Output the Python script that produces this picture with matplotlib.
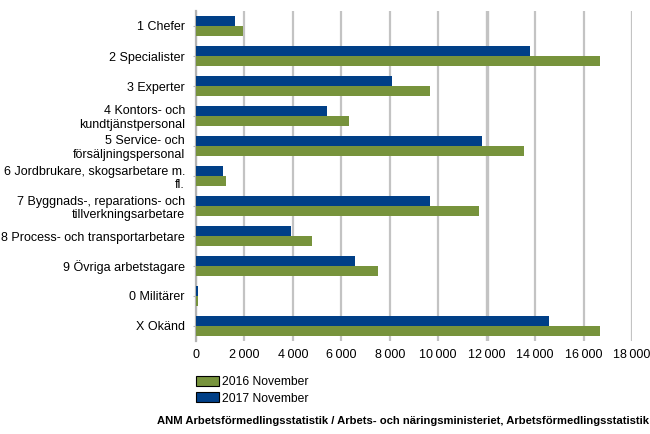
import numpy as np
import matplotlib.pyplot as plt
from matplotlib.patches import Patch

plt.rcParams['font.family'] = ['Liberation Sans', 'DejaVu Sans']

categories = ['1 Chefer', '2 Specialister', '3 Experter',
              '4 Kontors- och\nkundtjänstpersonal',
              '5 Service- och\nförsäljningspersonal',
              '6 Jordbrukare, skogsarbetare m.\nfl.',
              '7 Byggnads-, reparations- och\ntillverkningsarbetare',
              '8 Process- och transportarbetare',
              '9 Övriga arbetstagare', '0 Militärer', 'X Okänd']
nov_2016 = [1940, 16680, 9660, 6320, 13540, 1240, 11680, 4790, 7510, 80, 16680]
nov_2017 = [1610, 13790, 8090, 5410, 11810, 1115, 9660, 3920, 6560, 80, 14570]
xticks = list(range(0, 18001, 2000))
xticklabels = ['0', '2\u2009000', '4\u2009000', '6\u2009000', '8\u2009000', '10\u2009000',
               '12\u2009000', '14\u2009000', '16\u2009000', '18\u2009000']

green = '#77933c'
blue = '#003f87'

fig = plt.figure(figsize=(6.5, 4.34), dpi=100)
ax = fig.add_axes([196 / 650, 1 - 341 / 434, 436 / 650, 330 / 434])

y = np.arange(len(categories))
h = 0.31
ax.barh(y - h / 2 - 0.01, nov_2017, height=h, color=blue, zorder=3)
ax.barh(y + h / 2 + 0.01, nov_2016, height=h, color=green, zorder=3)

ax.set_ylim(len(categories) - 0.5, -0.5)
ax.set_xlim(0, 18000)
ax.set_yticks(y)
ax.set_yticklabels(categories, fontsize=9, linespacing=1.2)
ax.set_xticks(xticks)
ax.set_xticklabels(xticklabels, fontsize=9)
ax.tick_params(axis='y', length=2, color='#b3b3b3', pad=6)
ax.tick_params(axis='x', length=0, pad=6)

for t in xticks:
    lw = 2.4 if t == 12000 else 1.6
    ax.axvline(t, color='#c3c3c3', lw=lw, zorder=1)

for s in ['top', 'right', 'bottom']:
    ax.spines[s].set_visible(False)
ax.spines['left'].set_color('#b3b3b3')
ax.spines['left'].set_linewidth(1.6)

handles = [Patch(facecolor=green, edgecolor='black', linewidth=0.8, label='2016 November'),
           Patch(facecolor=blue, edgecolor='black', linewidth=0.8, label='2017 November')]
fig.legend(handles=handles, loc='upper left', bbox_to_anchor=(190 / 650, 1 - 370 / 434),
           frameon=False, fontsize=8.7, handlelength=1.9, handleheight=0.9,
           handletextpad=0.25, labelspacing=0.35, borderpad=0)

fig.text(649 / 650, 1 - 421 / 434,
         'ANM Arbetsförmedlingsstatistik / Arbets- och näringsministeriet, Arbetsförmedlingsstatistik',
         ha='right', va='center', fontsize=8.1, fontweight='bold')

fig.savefig('out.png', dpi=100)
